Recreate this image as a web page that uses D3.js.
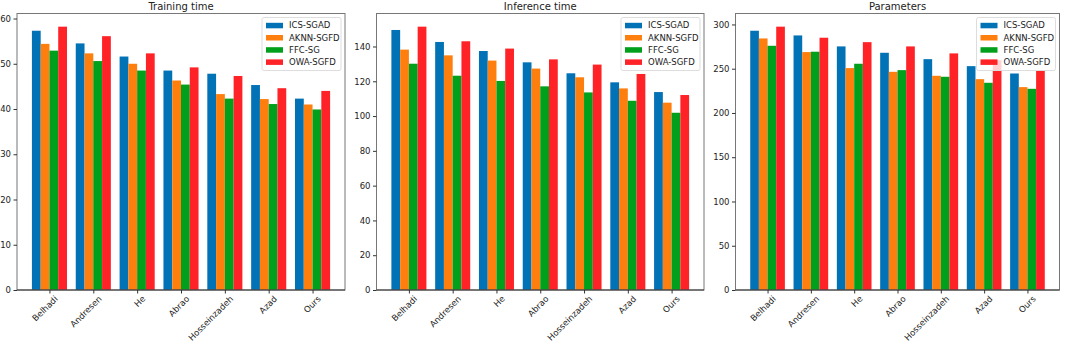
<!DOCTYPE html>
<html lang="en">
<head>
<meta charset="UTF-8">
<script src="https://d3js.org/d3.v7.min.js"></script>
<style>
    body { margin: 0; background: #fff; font-family: 'DejaVu Sans', sans-serif; }
    svg { display: block; }
</style>
</head>
<body>
<div id="chart"></div>
<script>
// categories and series
const methods = ["Belhadi", "Andresen", "He", "Abrao", "Hosseinzadeh", "Azad", "Ours"];
const seriesNames = ["ICS-SGAD", "AKNN-SGFD", "FFC-SG", "OWA-SGFD"];
const colors = ["#0072b5", "#ff7f0e", "#00a01c", "#ff2226"];

// Training time
const trainICS  = [57.3, 54.5, 51.6, 48.5, 47.8, 45.3, 42.3];
const trainAKNN = [54.4, 52.3, 50.0, 46.3, 43.3, 42.2, 41.0];
const trainFFC  = [52.9, 50.6, 48.5, 45.4, 42.3, 41.1, 39.9];
const trainOWA  = [58.2, 56.1, 52.3, 49.2, 47.3, 44.6, 44.0];

// Inference time
const inferICS  = [149.5, 142.6, 137.4, 130.9, 124.6, 119.4, 113.8];
const inferAKNN = [138.2, 134.9, 131.9, 127.3, 122.3, 115.9, 107.7];
const inferFFC  = [130.1, 123.2, 120.2, 117.1, 113.6, 108.8, 101.9];
const inferOWA  = [151.4, 143.0, 138.8, 132.6, 129.6, 124.2, 112.1];

// Parameters
const paramICS  = [292.9, 287.6, 275.2, 268.0, 260.8, 252.9, 244.6];
const paramAKNN = [284.2, 268.8, 250.7, 246.5, 242.0, 238.2, 229.2];
const paramFFC  = [275.9, 269.2, 255.6, 248.4, 240.9, 234.1, 227.3];
const paramOWA  = [297.5, 285.0, 280.0, 275.2, 267.3, 259.7, 248.0];

const yTicksTrain = [0, 10, 20, 30, 40, 50, 60];
const yTicksInfer = [0, 20, 40, 60, 80, 100, 120, 140];
const yTicksParam = [0, 50, 100, 150, 200, 250, 300];

const panels = [
    {title: "Training time", series: [trainICS, trainAKNN, trainFFC, trainOWA], ticks: yTicksTrain,
     left: 17, right: 345},
    {title: "Inference time", series: [inferICS, inferAKNN, inferFFC, inferOWA], ticks: yTicksInfer,
     left: 376.5, right: 704},
    {title: "Parameters", series: [paramICS, paramAKNN, paramFFC, paramOWA], ticks: yTicksParam,
     left: 735.5, right: 1059.5}
];

const W = 1065, H = 343;
const plotTop = 13.5, plotBottom = 290;
const barW = 0.2;

const svg = d3.select("#chart").append("svg")
    .attr("width", W)
    .attr("height", H);

panels.forEach(p => {
    const g = svg.append("g");
    const ymax = d3.max(p.series, s => d3.max(s)) * 1.05;

    // matplotlib style: bars span i-0.4..i+0.4, 5% margins
    const x = d3.scaleLinear().domain([-0.74, methods.length - 1 + 0.74]).range([p.left, p.right]);
    const y = d3.scaleLinear().domain([0, ymax]).range([plotBottom, plotTop]);

    // bars
    p.series.forEach((vals, j) => {
        g.selectAll(null)
            .data(vals)
            .enter()
            .append("rect")
            .attr("x", (d, i) => x(i + (j - 2) * barW))
            .attr("y", d => y(d))
            .attr("width", x(barW) - x(0))
            .attr("height", d => y(0) - y(d))
            .attr("fill", colors[j]);
    });

    // frame
    g.append("rect")
        .attr("x", p.left).attr("y", plotTop)
        .attr("width", p.right - p.left).attr("height", plotBottom - plotTop)
        .attr("fill", "none").attr("stroke", "#777").attr("stroke-width", 1);
    g.append("line")
        .attr("x1", p.left).attr("x2", p.right)
        .attr("y1", plotBottom).attr("y2", plotBottom)
        .attr("stroke", "#333");

    // y axis
    const yAxis = d3.axisLeft(y).tickValues(p.ticks).tickSize(3.5).tickPadding(2.5);
    const ya = g.append("g").attr("transform", "translate(" + p.left + ",0)").call(yAxis);
    ya.select(".domain").remove();
    ya.selectAll("line").attr("stroke", "#333");
    ya.selectAll("text").attr("font-size", "8.5px").attr("fill", "#222")
        .attr("font-family", "DejaVu Sans");

    // x axis
    const xAxis = d3.axisBottom(x).tickValues(d3.range(methods.length))
        .tickFormat(i => methods[i]).tickSize(3.5);
    const xa = g.append("g").attr("transform", "translate(0," + plotBottom + ")").call(xAxis);
    xa.select(".domain").remove();
    xa.selectAll("line").attr("stroke", "#333");
    xa.selectAll("text")
        .attr("font-size", "8.5px").attr("fill", "#222").attr("font-family", "DejaVu Sans")
        .attr("text-anchor", "end")
        .attr("dy", "0.3em")
        .attr("transform", "translate(2,3) rotate(-45)");

    // title
    g.append("text")
        .attr("x", (p.left + p.right) / 2)
        .attr("y", 9.5)
        .attr("text-anchor", "middle")
        .attr("font-size", "10px")
        .attr("fill", "#222")
        .text(p.title);

    // legend
    const lx = p.right - 83, ly = plotTop + 4;
    const lg = g.append("g").attr("transform", "translate(" + lx + "," + ly + ")");
    lg.append("rect")
        .attr("width", 79).attr("height", 53)
        .attr("rx", 2)
        .attr("fill", "rgba(255,255,255,0.8)")
        .attr("stroke", "#ddd");
    seriesNames.forEach((name, j) => {
        const ry = 8 + j * 12.2;
        lg.append("rect")
            .attr("x", 4).attr("y", ry - 2.7)
            .attr("width", 17).attr("height", 5.5)
            .attr("fill", colors[j]);
        lg.append("text")
            .attr("x", 27).attr("y", ry)
            .attr("dy", "0.35em")
            .attr("font-size", "8.5px")
            .attr("fill", "#222")
            .text(name);
    });
});
</script>
</body>
</html>
